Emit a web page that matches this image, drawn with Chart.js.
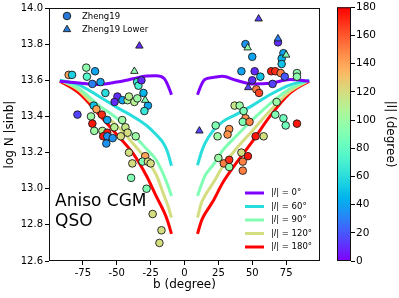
<!DOCTYPE html>
<html><head><meta charset="utf-8">
<script src="https://cdn.jsdelivr.net/npm/chart.js@4.4.1/dist/chart.umd.min.js"></script>
<style>
html,body{margin:0;padding:0;background:#fff;}
#wrap{position:relative;width:399px;height:298px;overflow:hidden;}
#main{position:absolute;left:0;top:0;}
#cbar{position:absolute;left:330px;top:0;}
</style></head><body>
<div id="wrap"><canvas id="main" width="330" height="298"></canvas><canvas id="cbar" width="69" height="298"></canvas></div>
<script>
// ---- Data: Zheng19 circles (b, N|sinb|, |l|) ----
const circB = [-85.5,-83,-72.5,-66,-72,-62,-68,-58.4,-49.5,-51.6,-45.8,-42,-41,-37,-34.8,-30.3,-27,-29.6,-35,-34,-31.8,-67,-65,-79,-69,-68,-66.6,-61,-57,-60.6,-57,-60,-57,-53,-57.7,-51.8,-46,-43.6,-42,-47,-36,-41,-38.5,-39.4,-29,-31,-27,-25,-28,-23.5,-17,-18.5,
  69,45,50,73,71.7,71.7,42,51.8,56,50,64,67,71,74,83,83,53,55,65,68,37,40.7,43.6,45,43,48,67,73,74.7,83,23,24.4,33,31.8,52.5,58.4,42,46.8,43,43,25,29,33,33];
const circN = [13.63,13.63,13.67,13.65,13.62,13.59,13.58,13.53,13.51,13.48,13.49,13.49,13.51,13.48,13.50,13.53,13.46,13.43,13.59,13.57,13.60,13.46,13.44,13.41,13.40,13.36,13.32,13.41,13.38,13.32,13.31,13.29,13.29,13.28,13.25,13.34,13.38,13.34,13.31,13.29,13.29,13.20,13.14,13.06,13.18,13.15,13.15,13.14,13.00,12.86,12.77,12.70,
  13.81,13.80,13.73,13.75,13.72,13.69,13.65,13.65,13.62,13.60,13.65,13.65,13.64,13.62,13.64,13.62,13.55,13.53,13.58,13.48,13.46,13.46,13.43,13.39,13.37,13.37,13.41,13.39,13.35,13.36,13.35,13.29,13.33,13.30,13.29,13.29,13.20,13.18,13.15,13.10,13.17,13.14,13.12,13.16];
const circL = [140,55,95,40,75,40,30,60,10,10,40,105,110,110,100,45,40,65,65,70,10,50,140,15,100,175,100,170,40,110,175,175,35,35,35,110,100,115,120,120,100,120,120,90,140,90,120,120,90,120,120,120,
  10,35,40,40,45,50,40,10,50,10,175,170,150,20,95,95,150,165,15,100,115,100,90,145,90,150,90,85,85,175,90,100,145,145,175,120,120,175,150,150,100,150,95,170];

// ---- Data: Zheng19 Lower triangles ----
const triB = [-33.3,-37,-29,54.7,69,46.6,75,47,11];
const triN = [13.79,13.65,13.49,13.94,13.83,13.78,13.74,13.56,13.32];
const triL = [10,95,90,15,30,95,90,15,15];

// ---- Data: model curves ----
const lineLevels = [0,60,90,120,180];
const lineBLeft  = [-92,-78,-63,-50,-38,-28,-21,-15,-12.4,-9.6];
const lineBRight = [9.6,12.4,15,21,28,38,50,63,78,92];
const lineN0L   = [13.595,13.585,13.577,13.59,13.608,13.624,13.625,13.61,13.575,13.52];
const lineN0R   = [13.52,13.575,13.605,13.615,13.622,13.60,13.58,13.583,13.604,13.595];
const lineN60L  = [13.60,13.575,13.51,13.45,13.40,13.35,13.30,13.245,13.20,13.127];
const lineN60R  = [13.13,13.20,13.25,13.32,13.37,13.41,13.46,13.52,13.575,13.60];
const lineN90L  = [13.60,13.555,13.46,13.39,13.30,13.22,13.16,13.07,13.02,12.96];
const lineN90R  = [12.96,13.02,13.07,13.13,13.21,13.29,13.38,13.47,13.555,13.60];
const lineN120L = [13.60,13.545,13.43,13.35,13.25,13.16,13.08,12.96,12.91,12.84];
const lineN120R = [12.84,12.92,12.96,13.03,13.12,13.22,13.32,13.43,13.54,13.60];
const lineN180L = [13.595,13.53,13.41,13.30,13.195,13.07,12.96,12.87,12.82,12.75];
const lineN180R = [12.75,12.82,12.86,12.93,13.03,13.14,13.26,13.40,13.53,13.595];

// ---- Ticks ----
const xTicks = [-75,-50,-25,0,25,50,75];
const yTicks = [12.6,12.8,13.0,13.2,13.4,13.6,13.8,14.0];
const cbTicks = [0,20,40,60,80,100,120,140,160,180];

const FONT = "'DejaVu Sans', sans-serif";
Chart.defaults.font.family = FONT;
Chart.defaults.color = '#000';

function rainbow(t){
  t = Math.max(0, Math.min(1, t));
  const r = Math.min(1, Math.abs(2*t - 0.5));
  const g = Math.sin(Math.PI*t);
  const b = Math.cos(Math.PI*t/2);
  return `rgb(${Math.round(r*255)},${Math.round(g*255)},${Math.round(b*255)})`;
}
const lc = v => rainbow(v/180);

const lineL = [lineN0L, lineN60L, lineN90L, lineN120L, lineN180L];
const lineR = [lineN0R, lineN60R, lineN90R, lineN120R, lineN180R];

const lineDatasets = lineLevels.map((lv, k) => ({
  type: 'line',
  label: '|l| = ' + lv + '°',
  data: [...lineBLeft.map((b,i)=>({x:b, y:lineL[k][i]})), {x:0, y:null}, ...lineBRight.map((b,i)=>({x:b, y:lineR[k][i]}))],
  borderColor: lc(lv), borderWidth: 3, pointRadius: 0, fill: false,
  cubicInterpolationMode: 'monotone', spanGaps: false, order: 2
}));

const circDataset = {
  type: 'scatter', label: 'Zheng19',
  data: circB.map((b,i)=>({x:b, y:circN[i]})),
  pointStyle: 'circle', pointRadius: 3.8,
  pointBackgroundColor: circL.map(lc), pointBorderColor: '#1a1a1a', pointBorderWidth: 0.9,
  order: 1
};
const triDataset = {
  type: 'scatter', label: 'Zheng19 Lower',
  data: triB.map((b,i)=>({x:b, y:triN[i]})),
  pointStyle: 'triangle', pointRadius: 4.3,
  pointBackgroundColor: triL.map(lc), pointBorderColor: '#1a1a1a', pointBorderWidth: 0.9,
  order: 0
};

const decor = {
  id: 'decor',
  afterDraw(chart){
    const {ctx, chartArea: a} = chart;
    ctx.save();
    ctx.strokeStyle = '#111'; ctx.lineWidth = 1;
    ctx.strokeRect(a.left + 0.5, a.top + 0.5, a.right - a.left - 1, a.bottom - a.top - 1);
    // annotation
    ctx.fillStyle = '#000'; ctx.textAlign = 'left'; ctx.textBaseline = 'alphabetic';
    ctx.font = `17px ${FONT}`;
    ctx.fillText('Aniso CGM', 55, 206);
    ctx.fillText('QSO', 55, 226);
    // top-left legend
    ctx.textBaseline = 'middle';
    ctx.font = `8.5px ${FONT}`;
    ctx.fillStyle = 'rgb(40,120,215)'; ctx.strokeStyle = '#1a1a1a'; ctx.lineWidth = 0.9;
    Chart.helpers.drawPoint(ctx, {pointStyle:'circle', radius:3.8, rotation:0, borderWidth:0.9}, 67, 16);
    Chart.helpers.drawPoint(ctx, {pointStyle:'triangle', radius:4.3, rotation:0, borderWidth:0.9}, 67, 29.5);
    ctx.fillStyle = '#000';
    ctx.fillText(circDataset.label, 82, 16.5);
    ctx.fillText(triDataset.label, 82, 29.5);
    // lower-right legend
    const rows = [193, 206.5, 220, 233.5, 247];
    lineLevels.forEach((lv, i) => {
      const y = rows[i];
      ctx.strokeStyle = lc(lv); ctx.lineWidth = 3;
      ctx.beginPath(); ctx.moveTo(245, y); ctx.lineTo(264, y); ctx.stroke();
      let x = 271;
      ctx.fillStyle = '#000';
      ctx.font = `8.5px ${FONT}`; ctx.fillText('|', x, y); x += ctx.measureText('|').width;
      ctx.font = `italic 8.5px ${FONT}`; ctx.fillText('l', x, y); x += ctx.measureText('l').width;
      ctx.font = `8.5px ${FONT}`; ctx.fillText('| = ' + lv + '°', x, y);
    });
    ctx.restore();
  }
};

new Chart(document.getElementById('main'), {
  data: { datasets: [...lineDatasets, circDataset, triDataset] },
  options: {
    responsive: false, animation: false, devicePixelRatio: 1,
    layout: { padding: { top: 4, right: 10, bottom: 0, left: 0 } },
    plugins: { legend: { display: false }, tooltip: { enabled: false } },
    scales: {
      x: {
        type: 'linear', min: -100, max: 100,
        afterBuildTicks: s => { s.ticks = xTicks.map(v => ({value: v})); },
        afterFit: s => { s.height = 37; },
        ticks: { font: { size: 10 }, padding: 2, color: '#000', maxRotation: 0 },
        grid: { display: true, drawOnChartArea: false, drawTicks: true, tickLength: 4, color: '#000' },
        border: { display: false },
        title: { display: true, text: 'b (degree)', font: { size: 12 }, padding: { top: 0, bottom: 6 }, color: '#000' }
      },
      y: {
        type: 'linear', min: 12.6, max: 14.0,
        afterBuildTicks: s => { s.ticks = yTicks.map(v => ({value: v})); },
        afterFit: s => { s.width = 49; },
        ticks: { font: { size: 10 }, padding: 2, color: '#000', callback: v => Number(v).toFixed(1) },
        grid: { display: true, drawOnChartArea: false, drawTicks: true, tickLength: 4, color: '#000' },
        border: { display: false },
        title: { display: true, text: 'log N |sinb|', font: { size: 12 }, padding: { top: 3, bottom: 0 }, color: '#000' }
      }
    }
  },
  plugins: [decor]
});

// ---- colorbar ----
const cbOutline = {
  id: 'cbOutline',
  afterDraw(chart){
    const {ctx, chartArea: a} = chart;
    ctx.save(); ctx.strokeStyle = '#111'; ctx.lineWidth = 1;
    ctx.strokeRect(a.left + 0.5, a.top + 0.5, a.right - a.left - 1, a.bottom - a.top - 1);
    ctx.restore();
  }
};
new Chart(document.getElementById('cbar'), {
  type: 'bar',
  data: { labels: ['|l|'], datasets: [{
    data: [[cbTicks[0], cbTicks[cbTicks.length-1]]],
    backgroundColor: (c) => {
      const ch = c.chart; const area = ch.chartArea;
      if (!area) return '#888';
      const y0 = ch.scales.y.getPixelForValue(0), y1 = ch.scales.y.getPixelForValue(180);
      const g = ch.ctx.createLinearGradient(0, y0, 0, y1);
      for (let i = 0; i <= 20; i++) g.addColorStop(i/20, rainbow(i/20));
      return g;
    },
    borderWidth: 0, barPercentage: 1, categoryPercentage: 1
  }]},
  options: {
    responsive: false, animation: false, devicePixelRatio: 1,
    layout: { padding: { left: 7, top: 4, bottom: 37, right: 0 } },
    plugins: { legend: { display: false }, tooltip: { enabled: false } },
    scales: {
      x: { display: false },
      y: {
        position: 'right', min: 0, max: 180,
        afterBuildTicks: s => { s.ticks = cbTicks.map(v => ({value: v})); },
        afterFit: s => { s.width = 48; },
        ticks: { font: { size: 10.5 }, padding: 1, color: '#000' },
        grid: { display: true, drawOnChartArea: false, drawTicks: true, tickLength: 4, color: '#000' },
        border: { display: false },
        title: { display: true, text: '|l| (degree)', font: { size: 12 }, padding: { top: 2, bottom: 0 }, color: '#000' }
      }
    }
  },
  plugins: [cbOutline]
});
</script>
</body></html>
